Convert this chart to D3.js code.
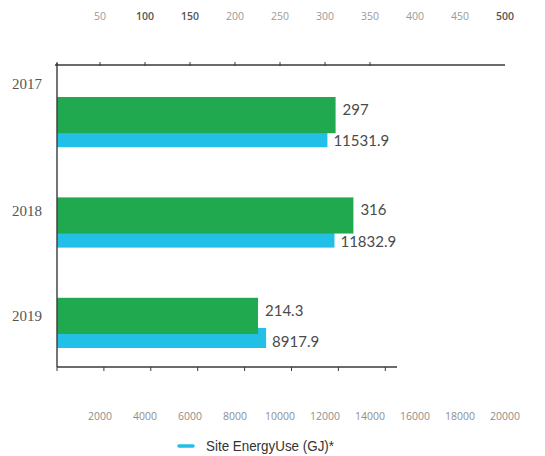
<!DOCTYPE html>
<html>
<head>
<meta charset="utf-8">
<script src="https://cdn.jsdelivr.net/npm/d3@7"></script>
<style>
  html, body { margin: 0; padding: 0; background: #fff; }
  svg { display: block; }
</style>
</head>
<body>
<svg id="chart" width="545" height="456"></svg>
<script>
// Annual figures per year
const years = ["2017", "2018", "2019"];
const greenValues = [297, 316, 214.3];          // upper (green) series
const siteEnergyUse = [11531.9, 11832.9, 8917.9]; // Site Energy Use (GJ)*

// Axis labels
const topTickLabels = [50, 100, 150, 200, 250, 300, 350, 400, 450, 500];
const bottomTickLabels = [2000, 4000, 6000, 8000, 10000, 12000, 14000, 16000, 18000, 20000];
const legendLabel = "Site EnergyUse (GJ)*";

const GREEN = "#21a94f";
const BLUE = "#22bfe6";
const AXIS = "#3a3a3a";

const svg = d3.select("#chart");

// Bar scales: both series share the same plotted length (500 ↔ 20000)
const xGreen = d3.scaleLinear().domain([0, 500]).range([57, 526]);
const xBlue = d3.scaleLinear().domain([0, 20000]).range([57, 526]);

// Scales used for the printed tick labels along the top and bottom
const xTopLabel = d3.scaleLinear().domain([0, 500]).range([55, 505]);
const xBottomLabel = d3.scaleLinear().domain([0, 20000]).range([55, 505]);

const y = d3.scaleBand().domain(years).range([97, 348]).paddingInner(0.5).paddingOuter(0);
const bw = y.bandwidth();

// ---- Top axis ----
const topAxisY = 65;
svg.append("line")
  .attr("x1", xTopLabel(0)).attr("x2", xTopLabel(500))
  .attr("y1", topAxisY).attr("y2", topAxisY)
  .attr("stroke", AXIS).attr("stroke-width", 1.4);
svg.append("g").selectAll("line")
  .data([0, 50, 100, 150, 200, 250, 300, 350])
  .join("line")
  .attr("x1", d => d === 0 ? xGreen(0) : xTopLabel(d))
  .attr("x2", d => d === 0 ? xGreen(0) : xTopLabel(d))
  .attr("y1", topAxisY - 3).attr("y2", topAxisY + 1)
  .attr("stroke", AXIS).attr("stroke-width", 1);

const emphasisTop = new Set([100, 150, 500]);
svg.append("g").selectAll("text")
  .data(topTickLabels)
  .join("text")
  .attr("x", d => xTopLabel(d))
  .attr("y", 20)
  .attr("text-anchor", "middle")
  .attr("font-family", "'Open Sans', sans-serif")
  .attr("font-size", 10.5)
  .attr("font-weight", d => emphasisTop.has(d) ? 600 : 400)
  .attr("fill", d => emphasisTop.has(d) ? "#555" : "#9a9a9a")
  .text(d => d);

// ---- Bottom axis ----
const bottomAxisY = 367;
svg.append("line")
  .attr("x1", xBlue(0)).attr("x2", xBlue(14500))
  .attr("y1", bottomAxisY).attr("y2", bottomAxisY)
  .attr("stroke", AXIS).attr("stroke-width", 1.4);
svg.append("g").selectAll("line")
  .data(d3.range(0, 14001, 2000))
  .join("line")
  .attr("x1", d => xBlue(d)).attr("x2", d => xBlue(d))
  .attr("y1", bottomAxisY).attr("y2", bottomAxisY + 4)
  .attr("stroke", AXIS).attr("stroke-width", 1);

svg.append("g").selectAll("text")
  .data(bottomTickLabels)
  .join("text")
  .attr("x", d => xBottomLabel(d))
  .attr("y", 420)
  .attr("text-anchor", "middle")
  .attr("font-family", "'Open Sans', sans-serif")
  .attr("font-size", 10.5)
  .attr("fill", "#8e8e8e")
  .text(d => d);

// ---- Bars ----
const rows = years.map((yr, i) => ({ year: yr, g: greenValues[i], b: siteEnergyUse[i] }));

const group = svg.append("g");
// Blue bar sits partly behind the green bar
group.selectAll("rect.blue")
  .data(rows)
  .join("rect")
  .attr("class", "blue")
  .attr("x", xBlue(0))
  .attr("y", d => y(d.year) + bw * 0.6)
  .attr("width", d => xBlue(d.b) - xBlue(0))
  .attr("height", bw * 0.4)
  .attr("fill", BLUE);

group.selectAll("rect.green")
  .data(rows)
  .join("rect")
  .attr("class", "green")
  .attr("x", xGreen(0))
  .attr("y", d => y(d.year))
  .attr("width", d => xGreen(d.g) - xGreen(0))
  .attr("height", bw * 0.72)
  .attr("fill", GREEN);

// Value labels
const valueFont = "Lato, 'Open Sans', sans-serif";
group.selectAll("text.gv")
  .data(rows)
  .join("text")
  .attr("class", "gv")
  .attr("x", d => xGreen(d.g) + 7)
  .attr("y", d => y(d.year) + 18)
  .attr("font-family", valueFont)
  .attr("font-size", 15)
  .attr("fill", "#4a4a4a")
  .text(d => d.g);

group.selectAll("text.bv")
  .data(rows)
  .join("text")
  .attr("class", "bv")
  .attr("x", d => xBlue(d.b) + 6)
  .attr("y", d => y(d.year) + bw - 1)
  .attr("font-family", valueFont)
  .attr("font-size", 15)
  .attr("fill", "#4a4a4a")
  .text(d => d.b);

// ---- Left axis ----
svg.append("line")
  .attr("x1", xGreen(0)).attr("x2", xGreen(0))
  .attr("y1", topAxisY - 2).attr("y2", bottomAxisY)
  .attr("stroke", AXIS).attr("stroke-width", 1.4);

// Year labels, set slightly off the bar groups
const yearLabelNudge = [-13, 14, 18];
svg.append("g").selectAll("text")
  .data(years)
  .join("text")
  .attr("x", 42)
  .attr("y", (d, i) => y(d) + yearLabelNudge[i] + 5)
  .attr("text-anchor", "end")
  .attr("font-family", "'Liberation Serif', 'DejaVu Serif', serif")
  .attr("font-size", 15)
  .attr("fill", "#555")
  .text(d => d);

// ---- Legend ----
const legend = svg.append("g");
legend.append("line")
  .attr("x1", 179).attr("x2", 193)
  .attr("y1", 446).attr("y2", 446)
  .attr("stroke", BLUE).attr("stroke-width", 3.5)
  .attr("stroke-linecap", "round");
legend.append("text")
  .attr("x", 206).attr("y", 451)
  .attr("font-family", "Arimo, 'Liberation Sans', Arial, sans-serif")
  .attr("font-size", 14)
  .attr("fill", "#333")
  .attr("textLength", 128)
  .attr("lengthAdjust", "spacingAndGlyphs")
  .text(legendLabel);
</script>
</body>
</html>
